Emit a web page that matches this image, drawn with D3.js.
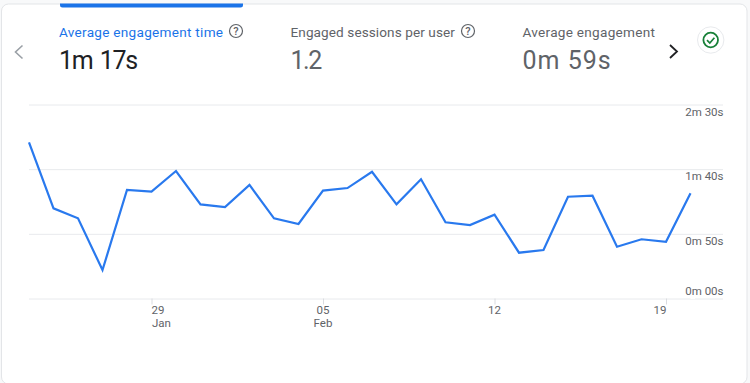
<!DOCTYPE html>
<html>
<head>
<meta charset="utf-8">
<script src="https://cdn.jsdelivr.net/npm/d3@7"></script>
<style>
  html, body { margin: 0; padding: 0; background: #fff; overflow: hidden; }
  text { font-family: Roboto, sans-serif; }
</style>
</head>
<body>
<div id="viz"></div>
<script>
const startDate = "2023-01-24"
// seconds per day
const seconds = [120.8, 69.7, 62, 22, 83.9, 82.6, 98.6, 72.8, 70.7, 87.8, 62, 57.6, 83.4, 85.4,
                 98, 72.8, 92.2, 58.9, 56.8, 64.8, 35.4, 37.5, 78.7, 79.5, 40, 45.8, 43.9, 81.3]
const yTicks = [0, 50, 100, 150]
const yTickLabels = ["0m 00s", "0m 50s", "1m 40s", "2m 30s"]
const xTicks = ["2023-01-29", "2023-02-05", "2023-02-12", "2023-02-19"]
const xTickMonths = ["Jan", "Feb", "", ""]
const metricNames = ["Average engagement time", "Engaged sessions per user", "Average engagement"]
const metricValues = ["1m 17s", "1.2", "0m 59s"]

const width = 750
const height = 383
const blue = "#1a73e8"
const grid = "#e8eaed"

const parse = d3.utcParse("%Y-%m-%d")
const dates = seconds.map((d, i) => d3.utcDay.offset(parse(startDate), i))

const canvas = d3.select("#viz")
                 .append("svg")
                 .attr("width", width)
                 .attr("height", height)
                 .style("display", "block")

canvas.append("rect").attr("width", width).attr("height", height).attr("fill", "#f8f9fa")

// card, its bottom edge runs off the picture
canvas.append("rect")
      .attr("x", 1.5).attr("y", 4)
      .attr("width", 745.5).attr("height", 380)
      .attr("rx", 7)
      .attr("fill", "#fff")
      .attr("stroke", "#e3e5e8")

// selected tab marker
canvas.append("path")
      .attr("d", "M60 3.5H243V5a2.5 2.5 0 0 1-2.5 2.5H62.5A2.5 2.5 0 0 1 60 5Z")
      .attr("fill", blue)

// metric headers
const metricX = [59, 290.5, 522.5]
const nameSpacing = [0.27, 0.08, 0.27]
const valueSpacing = [-1.3, -1.5, 1]
const valueWordSpacing = [2.5, 0, 0]
const headers = canvas.append("g")
                      .selectAll("g")
                      .data(metricNames)
                      .join("g")
                      .attr("transform", (d, i) => `translate(${metricX[i]},0)`)

headers.append("text")
       .attr("y", 37)
       .attr("font-size", 13.6)
       .attr("letter-spacing", (d, i) => nameSpacing[i])
       .attr("fill", (d, i) => i == 0 ? blue : "#5f6368")
       .text(d => d)

headers.append("text")
       .attr("y", 68.5)
       .attr("font-size", 25)
       .attr("letter-spacing", (d, i) => valueSpacing[i])
       .attr("word-spacing", (d, i) => valueWordSpacing[i])
       .attr("fill", (d, i) => i == 0 ? "#202124" : "#5f6368")
       .text((d, i) => metricValues[i])

// help icons
const helpX = [236, 468]
const help = canvas.append("g")
                   .selectAll("g")
                   .data(helpX)
                   .join("g")
                   .attr("transform", d => `translate(${d},31)`)
help.append("circle")
    .attr("r", 6.5)
    .attr("fill", "none")
    .attr("stroke", "#5f6368")
    .attr("stroke-width", 1.2)
help.append("text")
    .attr("y", 3.8)
    .attr("text-anchor", "middle")
    .attr("font-size", 11)
    .attr("font-weight", 500)
    .attr("fill", "#5f6368")
    .text("?")

// carousel arrows
canvas.append("path")
      .attr("d", "M22.5 45.5L15.5 52L22.5 58.5")
      .attr("fill", "none")
      .attr("stroke", "#9aa0a6")
      .attr("stroke-width", 1.6)
canvas.append("path")
      .attr("d", "M670 45L677 51.5L670 58")
      .attr("fill", "none")
      .attr("stroke", "#202124")
      .attr("stroke-width", 1.8)

// status badge
canvas.append("circle")
      .attr("cx", 710.7).attr("cy", 40).attr("r", 13.2)
      .attr("fill", "#fff")
      .attr("stroke", "#e8eaed")
canvas.append("circle")
      .attr("cx", 710.7).attr("cy", 40).attr("r", 7.3)
      .attr("fill", "none")
      .attr("stroke", "#188038")
      .attr("stroke-width", 1.8)
canvas.append("path")
      .attr("d", "M707 40.2L709.8 43L714.4 37.8")
      .attr("fill", "none")
      .attr("stroke", "#188038")
      .attr("stroke-width", 1.7)

// chart
const xScale = d3.scaleUtc()
                 .domain(d3.extent(dates))
                 .range([29, 690.5])

const yScale = d3.scaleLinear()
                 .domain([0, 150])
                 .range([298.5, 104.5])

const yGrid = d3.axisRight(yScale)
                .tickValues(yTicks)
                .tickSize(694)
                .tickFormat("")

canvas.append("g")
      .attr("transform", "translate(29,0)")
      .call(yGrid)
      .call(g => g.select(".domain").remove())
      .call(g => g.selectAll("line").attr("stroke", grid))

// small break in the baseline just after the last day
canvas.append("line")
      .attr("x1", xScale(dates[dates.length - 1]))
      .attr("x2", xScale(dates[dates.length - 1]) + 4.5)
      .attr("y1", yScale(0))
      .attr("y2", yScale(0))
      .attr("stroke", "#fff")

canvas.append("g")
      .selectAll("text")
      .data(yTicks)
      .join("text")
      .attr("x", 723.5)
      .attr("y", d => d == 0 ? yScale(d) - 4 : yScale(d) + 11)
      .attr("text-anchor", "end")
      .attr("font-size", 11.5)
      .attr("fill", "#5f6368")
      .text((d, i) => yTickLabels[i])

const xAxis = d3.axisBottom(xScale)
                .tickValues(xTicks.map(parse))
                .tickSize(6)
                .tickFormat("")

const xGroup = canvas.append("g")
                     .attr("transform", "translate(0,298.5)")
                     .call(xAxis)
xGroup.select(".domain").remove()
xGroup.selectAll("line").attr("stroke", "#dadce0")

// day and month are separate texts so their boxes stay clear of each other
const dayShift = [6.5, 0, 0, -6]
const monthShift = [10, 0, 0, 0]
canvas.append("g")
      .selectAll("text")
      .data(xTicks)
      .join("text")
      .attr("x", (d, i) => xScale(parse(d)) + dayShift[i])
      .attr("y", 313.5)
      .attr("text-anchor", "middle")
      .attr("font-size", 11.5)
      .attr("fill", "#5f6368")
      .text(d => d.slice(8))

canvas.append("g")
      .selectAll("text")
      .data(xTicks.filter((d, i) => xTickMonths[i] != ""))
      .join("text")
      .attr("x", (d, i) => xScale(parse(d)) + monthShift[i])
      .attr("y", 326.5)
      .attr("text-anchor", "middle")
      .attr("font-size", 11.5)
      .attr("fill", "#5f6368")
      .text((d, i) => xTickMonths[i])

const line = d3.line()
               .x((d, i) => xScale(dates[i]))
               .y(d => yScale(d))

canvas.append("path")
      .datum(seconds)
      .attr("d", line)
      .attr("fill", "none")
      .attr("stroke", "#2979ee")
      .attr("stroke-width", 2.2)
      .attr("stroke-linejoin", "miter")
</script>
</body>
</html>
